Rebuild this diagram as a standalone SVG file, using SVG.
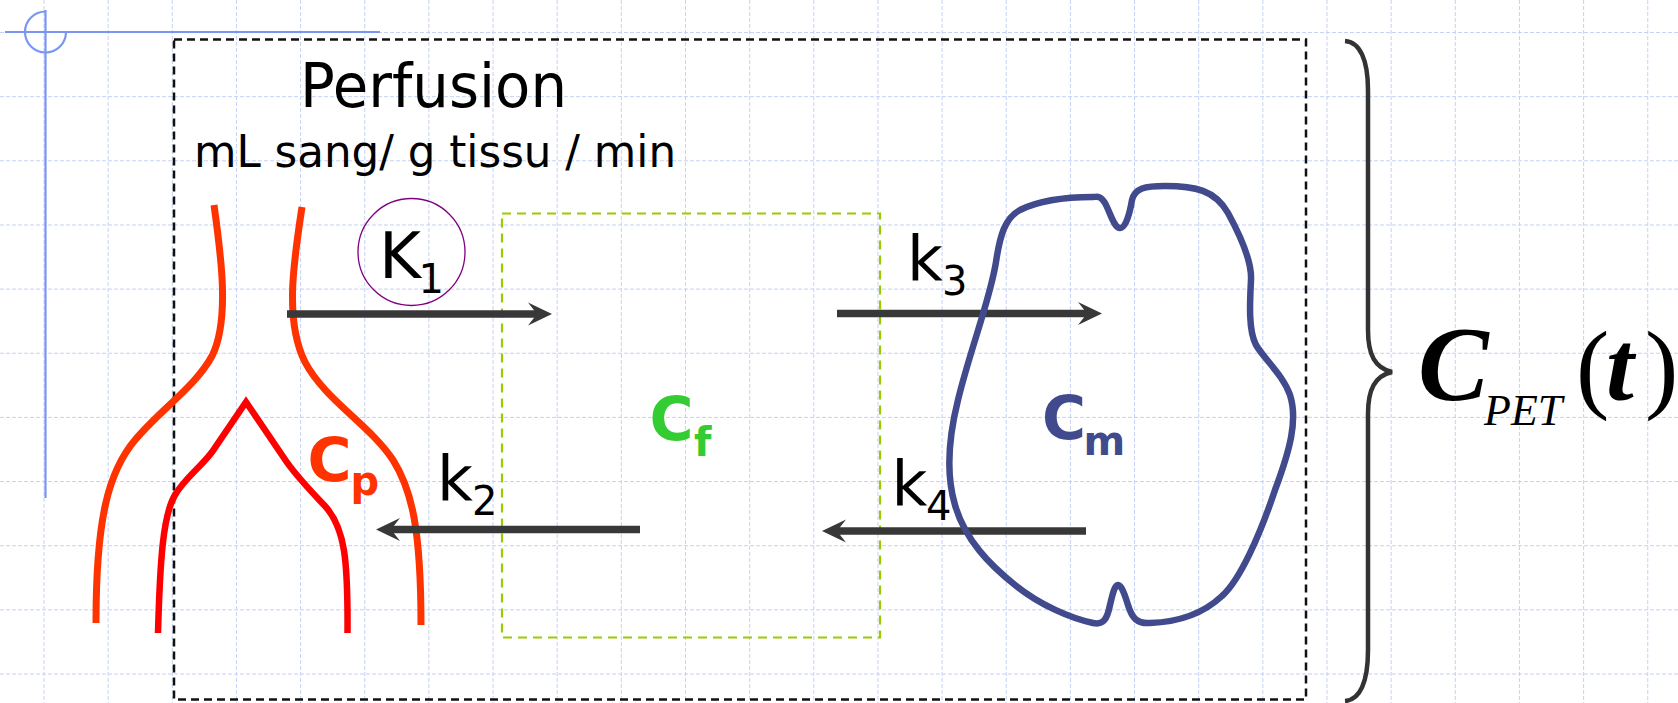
<svg xmlns="http://www.w3.org/2000/svg" width="1678" height="703" viewBox="0 0 1678 703">
  <style>
    .grid{fill:none;stroke:#c6d2f6;stroke-width:1;stroke-dasharray:4 2}
    .deco{fill:none;stroke:#7b96f2;stroke-width:2.2}
    .frame{fill:none;stroke:#111;stroke-width:2.5;stroke-dasharray:8 5}
    .pool{fill:none;stroke:#99cc00;stroke-width:2.2;stroke-dasharray:9 6}
    .vessel{fill:none;stroke:#ff3300;stroke-width:7}
    .artery{fill:none;stroke:#ff0000;stroke-width:6.5;stroke-linejoin:miter}
    .cell{fill:none;stroke:#414a8c;stroke-width:6.5}
    .flow{fill:none;stroke:#383838;stroke-width:7.5;marker-end:url(#head)}
    .brace{fill:none;stroke:#333;stroke-width:4.5}
    .sans{font-family:"DejaVu Sans","Liberation Sans",sans-serif;fill:#000}
    .rate{font-size:62px}
    .sub{font-size:40px}
    .pool-label{font-family:"DejaVu Sans","Liberation Sans",sans-serif;font-weight:bold;font-size:60px}
    .math{font-family:"Liberation Serif","DejaVu Serif",serif;fill:#000}
  </style>
  <defs>
    <marker id="head" markerUnits="userSpaceOnUse" viewBox="0 0 24 24" markerWidth="24" markerHeight="24" refX="9" refY="12" orient="auto">
      <path d="M0,0.5 L24,12 L0,23.5 L9,12 Z" fill="#383838"/>
    </marker>
  </defs>

  <!-- background grid -->
  <g id="grid">
    <path class="grid" d="M44,0V703 M108.15,0V703 M172.3,0V703 M236.45,0V703 M300.6,0V703 M364.75,0V703 M428.9,0V703 M493.05,0V703 M557.2,0V703 M621.35,0V703 M685.5,0V703 M749.65,0V703 M813.8,0V703 M877.95,0V703 M942.1,0V703 M1006.25,0V703 M1070.4,0V703 M1134.55,0V703 M1198.7,0V703 M1262.85,0V703 M1327,0V703 M1391.15,0V703 M1455.3,0V703 M1519.45,0V703 M1583.6,0V703 M1647.75,0V703"/>
    <path class="grid" d="M0,32.5H1678 M0,96.65H1678 M0,160.8H1678 M0,224.95H1678 M0,289.1H1678 M0,353.25H1678 M0,417.4H1678 M0,481.55H1678 M0,545.7H1678 M0,609.85H1678 M0,674H1678"/>
  </g>

  <!-- corner ornament -->
  <g id="ornament">
    <path class="deco" d="M5,32H380 M45.5,10V498"/>
    <path class="deco" d="M66,32 A20.5,20.5 0 1 1 45.5,11.5"/>
  </g>

  <!-- tissue region -->
  <g id="tissue">
    <rect class="frame" x="174" y="39.5" width="1132" height="660"/>
    <text class="sans" x="300" y="107" font-size="60" textLength="267" lengthAdjust="spacingAndGlyphs">Perfusion</text>
    <text class="sans" x="194" y="167" font-size="44" textLength="482" lengthAdjust="spacingAndGlyphs">mL sang/ g tissu / min</text>
  </g>

  <!-- plasma compartment: capillary -->
  <g id="plasma">
    <path class="vessel" d="M214,205 C221,255 230,320 212,356 C196,386 160,410 135,440 C108,472 96,520 96,623"/>
    <path class="vessel" d="M302,207 C294,260 284,320 305,362 C325,400 370,425 393,460 C412,490 421,530 421,625"/>
    <path class="artery" d="M158,633 C160,560 163,515 175,495 C185,478 200,468 212,452 L246,402 L284,458 C295,475 310,490 325,506 C345,528 348,560 347.5,633"/>
    <text class="pool-label" fill="#ff3300"><tspan x="307.5" y="481">C</tspan><tspan x="350.5" y="495" font-size="40">p</tspan></text>
  </g>

  <!-- free tracer compartment -->
  <g id="free">
    <rect class="pool" x="502" y="213.5" width="378" height="424"/>
    <text class="pool-label" fill="#33cc33"><tspan x="649.5" y="440">C</tspan><tspan x="694" y="456" font-size="40">f</tspan></text>
  </g>

  <!-- exchange rates -->
  <g id="connectors">
    <circle cx="411.5" cy="252" r="53.5" fill="none" stroke="#800080" stroke-width="1.3"/>
    <path class="flow" d="M287,314 H537"/>
    <path class="flow" d="M837,313.5 H1087"/>
    <path class="flow" d="M640,529.5 H391"/>
    <path class="flow" d="M1086,531 H837"/>
    <text class="sans"><tspan x="379" y="278" font-size="64">K</tspan><tspan class="sub" x="418.5" y="293">1</tspan></text>
    <text class="sans rate"><tspan x="907" y="280">k</tspan><tspan class="sub" x="942" y="295">3</tspan></text>
    <text class="sans rate"><tspan x="437" y="500">k</tspan><tspan class="sub" x="472" y="515">2</tspan></text>
    <text class="sans rate"><tspan x="891.5" y="505">k</tspan><tspan class="sub" x="926" y="520">4</tspan></text>
  </g>

  <!-- metabolized compartment: cell -->
  <g id="metabolized">
    <path class="cell" d="M1093,197 C1070,197 1040,200 1020,210 C1005,218 1000,235 996,262 C990,300 970,350 958,400 C948,440 946,475 955,505 C965,540 990,565 1015,585 C1040,605 1070,618 1093,623 C1103,625 1107,620 1110,605 C1113,592 1115,585 1118,585 C1121,585 1124,592 1128,605 C1132,618 1137,624 1150,623 C1180,622 1205,612 1222,596 C1240,580 1260,535 1275,490 C1290,450 1298,420 1290,395 C1283,375 1265,360 1256,345 C1248,330 1250,300 1251,280 C1252,262 1240,235 1228,213 C1215,190 1195,186 1165,186 C1145,186 1135,188 1132,200 C1130,212 1126,228 1120,228 C1114,228 1110,212 1105,203 C1100,195 1097,197 1093,197 Z"/>
    <text class="pool-label" fill="#414a8c"><tspan x="1042" y="439">C</tspan><tspan x="1083.5" y="455" font-size="40">m</tspan></text>
  </g>

  <!-- measured signal -->
  <g id="signal">
    <path class="brace" d="M1345,41 C1360,42 1368,60 1368,90 L1368,330 C1368,355 1375,368 1392,372 C1375,376 1368,389 1368,414 L1368,650 C1368,682 1360,700 1345,701"/>
    <text class="math"><tspan x="1418" y="400" font-size="106" font-weight="bold" font-style="italic">C</tspan><tspan x="1484" y="425" font-size="44" font-style="italic">PET</tspan><tspan x="1576" y="400" font-size="100">(</tspan><tspan x="1606" y="400" font-size="100" font-weight="bold" font-style="italic">t</tspan><tspan x="1645" y="400" font-size="100">)</tspan></text>
  </g>
</svg>
